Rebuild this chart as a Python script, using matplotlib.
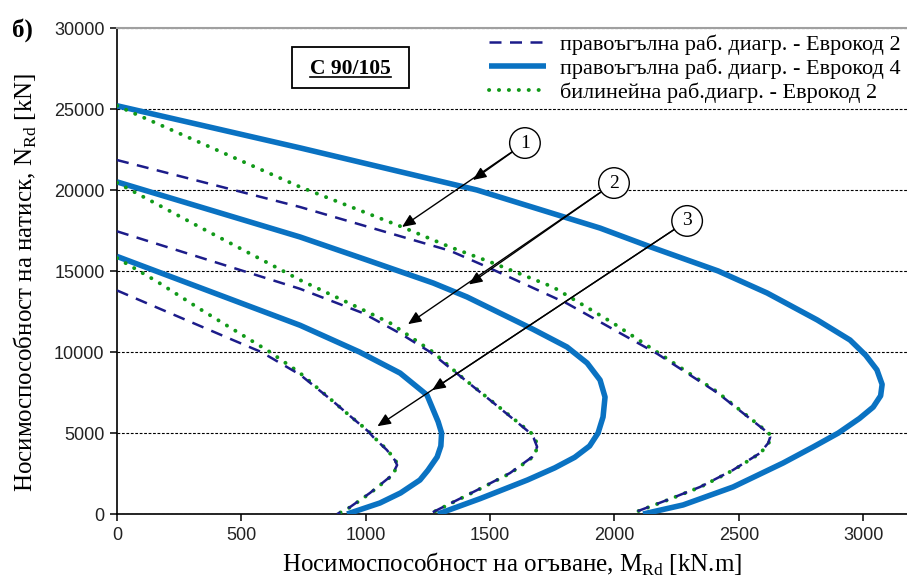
import numpy as np
import matplotlib
matplotlib.use('Agg')
import matplotlib.pyplot as plt
from matplotlib.lines import Line2D
from matplotlib.patches import Rectangle

plt.rcParams['font.family'] = 'serif'
plt.rcParams['font.serif'] = ['Liberation Serif', 'DejaVu Serif']
plt.rcParams['mathtext.fontset'] = 'custom'
plt.rcParams['mathtext.rm'] = 'Liberation Serif'
plt.rcParams['mathtext.bf'] = 'Liberation Serif:bold'

# %%
# values (M in kN.m, N in kN)
# curve 1 (largest section)
m_rect2_1 = [0, 736, 1339, 1488, 1809, 2022, 2171, 2412, 2618, 2626, 2618, 2585, 2477, 2344, 2211, 2063]
n_rect2_1 = [21850, 18950, 16250, 15250, 13000, 11170, 9900, 7500, 5000, 4750, 4380, 3760, 2720, 1670, 860, 0]
m_rect4_1 = [0, 736, 1447, 1942, 2143, 2417, 2614, 2815, 2947, 3010, 3055, 3076, 3070, 3040, 2985, 2900,
             2800, 2678, 2477, 2276, 2115]
n_rect4_1 = [25200, 22600, 20000, 17650, 16500, 15000, 13640, 11980, 10740, 9800, 8900, 8000, 7300, 6600, 5900, 5000,
             4150, 3150, 1670, 560, 0]
m_bilin_1 = [0, 736, 1146, 1339, 1512, 1753, 1994, 2171, 2412, 2620, 2630, 2620, 2587, 2479, 2346, 2213, 2065]
n_bilin_1 = [25200, 20190, 17720, 16480, 15490, 14010, 11790, 10000, 7550, 5000, 4750, 4380, 3760, 2720, 1670, 860, 0]

# curve 2
m_rect2_2 = [0, 736, 989, 1138, 1259, 1379, 1512, 1661, 1675, 1689, 1669, 1580, 1448, 1311, 1255]
n_rect2_2 = [17450, 13900, 12400, 11150, 10000, 8520, 6880, 5000, 4700, 4140, 3520, 2530, 1480, 430, 0]
m_rect4_2 = [0, 736, 1005, 1271, 1407, 1540, 1673, 1809, 1890, 1942, 1962, 1954, 1934, 1900, 1840, 1760,
             1650, 1460, 1290]
n_rect4_2 = [20500, 17100, 15680, 14260, 13400, 12400, 11400, 10310, 9320, 8270, 7220, 5990, 5000, 4200, 3500, 2850,
             2100, 950, 0]
m_bilin_2 = [0, 334, 668, 736, 965, 1098, 1270, 1379, 1512, 1665, 1680, 1692, 1672, 1583, 1450, 1313, 1257]
n_bilin_2 = [20450, 17700, 15000, 14440, 12780, 11790, 10000, 8540, 6900, 5000, 4700, 4140, 3520, 2530, 1480, 430, 0]

# curve 3
m_rect2_3 = [0, 466, 580, 736, 869, 937, 1010, 1030, 1085, 1118, 1126, 1106, 1017, 937, 885]
n_rect2_3 = [13800, 10740, 10000, 8600, 6950, 6050, 5100, 4750, 3950, 3300, 3020, 2400, 1300, 430, 0]
m_rect4_3 = [0, 736, 975, 1138, 1246, 1291, 1305, 1302, 1287, 1250, 1218, 1140, 1057, 925]
n_rect4_3 = [15900, 11650, 10000, 8700, 7350, 5700, 5000, 4200, 3520, 2700, 2100, 1300, 680, 0]
m_bilin_3 = [0, 161, 334, 615, 736, 869, 937, 1012, 1032, 1087, 1120, 1128, 1108, 1019, 939, 887]
n_bilin_3 = [15800, 14350, 12650, 10000, 8700, 6950, 6050, 5100, 4750, 3950, 3300, 3020, 2400, 1300, 430, 0]

legend_labels = ['правоъгълна раб. диагр. - Еврокод 2',
                 'правоъгълна раб. диагр. - Еврокод 4',
                 'билинейна раб.диагр. - Еврокод 2']

# numbered callouts: circle centre, head on EC4 curve, head on EC2 curves
callout_text = ['1', '2', '3']
callout_centre = [(1640, 22900), (1998, 20430), (2292, 18090)]
callout_head_a = [(1431, 20620), (1415, 14170), (1267, 7650)]
callout_head_b = [(1146, 17720), (1170, 11720), (1047, 5420)]

# %%
C_RECT2 = '#1c1c8a'
C_RECT4 = '#0a72c2'
C_BILIN = '#119a19'
ST_RECT2 = dict(color=C_RECT2, lw=1.8, ls=(0, (4.8, 3.4)))
ST_RECT4 = dict(color=C_RECT4, lw=4.0, ls='-', solid_capstyle='butt', solid_joinstyle='round')
ST_BILIN = dict(color=C_BILIN, lw=2.8, ls=(0, (0.05, 2.5)), dash_capstyle='round')

fig = plt.figure(figsize=(9.07, 5.81), dpi=100)
ax = fig.add_axes([0.129, 0.1153, 0.871, 0.8365])

groups = [(m_rect2_1, n_rect2_1, m_rect4_1, n_rect4_1, m_bilin_1, n_bilin_1),
          (m_rect2_2, n_rect2_2, m_rect4_2, n_rect4_2, m_bilin_2, n_bilin_2),
          (m_rect2_3, n_rect2_3, m_rect4_3, n_rect4_3, m_bilin_3, n_bilin_3)]
for mr2, nr2, mr4, nr4, mb, nb in groups:
    ax.plot(mr4, nr4, zorder=3, **ST_RECT4)
    ax.plot(mb, nb, zorder=4, **ST_BILIN)
    ax.plot(mr2, nr2, zorder=4, **ST_RECT2)

ax.set_xlim(0, 3176)
ax.set_ylim(0, 30000)
ax.set_xticks(np.arange(0, 3001, 500))
ax.set_yticks(np.arange(0, 30001, 5000))
ax.yaxis.grid(True, color='black', lw=0.8, ls=(0, (2.5, 1.5)))
ax.set_axisbelow(True)

ax.spines['right'].set_visible(False)
ax.spines['top'].set_color('#a0a0a0')
ax.spines['top'].set_linewidth(1.5)
for s in ['left', 'bottom']:
    ax.spines[s].set_color('black')
    ax.spines[s].set_linewidth(1.2)
ax.tick_params(direction='out', length=5, width=1.1, labelsize=13, labelcolor='#222222', pad=4)
for lbl in ax.get_xticklabels() + ax.get_yticklabels():
    lbl.set_fontfamily('Liberation Sans')

ax.set_xlabel(r'Носимоспособност на огъване, M$_{\mathrm{Rd}}$ [kN.m]', fontsize=18, labelpad=5)
ax.set_ylabel(r'Носимоспособност на натиск, N$_{\mathrm{Rd}}$ [kN]', fontsize=18)
ax.yaxis.set_label_coords(-0.099, 0.477)

handles = [Line2D([], [], **ST_RECT2), Line2D([], [], **ST_RECT4), Line2D([], [], **ST_BILIN)]
ax.legend(handles, legend_labels, loc='upper right', bbox_to_anchor=(1.0, 1.0), frameon=False,
          fontsize=16, handlelength=2.6, handletextpad=0.6, labelspacing=0.15, borderaxespad=0.1,
          borderpad=0.2)

for t, c, ha_, hb_ in zip(callout_text, callout_centre, callout_head_a, callout_head_b):
    arrow = dict(arrowstyle='-|>,head_length=0.8,head_width=0.35', color='black', lw=1.0,
                 shrinkA=0, shrinkB=0, mutation_scale=10)
    ax.annotate('', xy=hb_, xytext=c, arrowprops=arrow, zorder=6)
    ax.annotate('', xy=ha_, xytext=c, arrowprops=arrow, zorder=6)
    ax.text(c[0], c[1], t, fontsize=14, ha='center', va='center', zorder=7,
            bbox=dict(boxstyle='circle,pad=0.35', fc='white', ec='black', lw=1.0))

# concrete grade label in a box
ax.add_patch(Rectangle((0.2215, 0.8765), 0.1481, 0.0844, transform=ax.transAxes,
                       fc='white', ec='black', lw=1.3, zorder=5))
grade = ax.text(0.2955, 0.9053, 'C 90/105', transform=ax.transAxes, fontsize=15.5,
                fontweight='bold', ha='center', va='baseline', zorder=6)

fig.text(0.013, 0.948, 'б)', fontsize=18, fontweight='bold', ha='left', va='center')

# underline for the grade label
fig.canvas.draw()
bb = grade.get_window_extent().transformed(ax.transAxes.inverted())
ax.add_line(Line2D([bb.x0, bb.x1], [0.8985, 0.8985], transform=ax.transAxes,
                   color='black', lw=1.2, zorder=7))

fig.savefig('out.png', dpi=100)
